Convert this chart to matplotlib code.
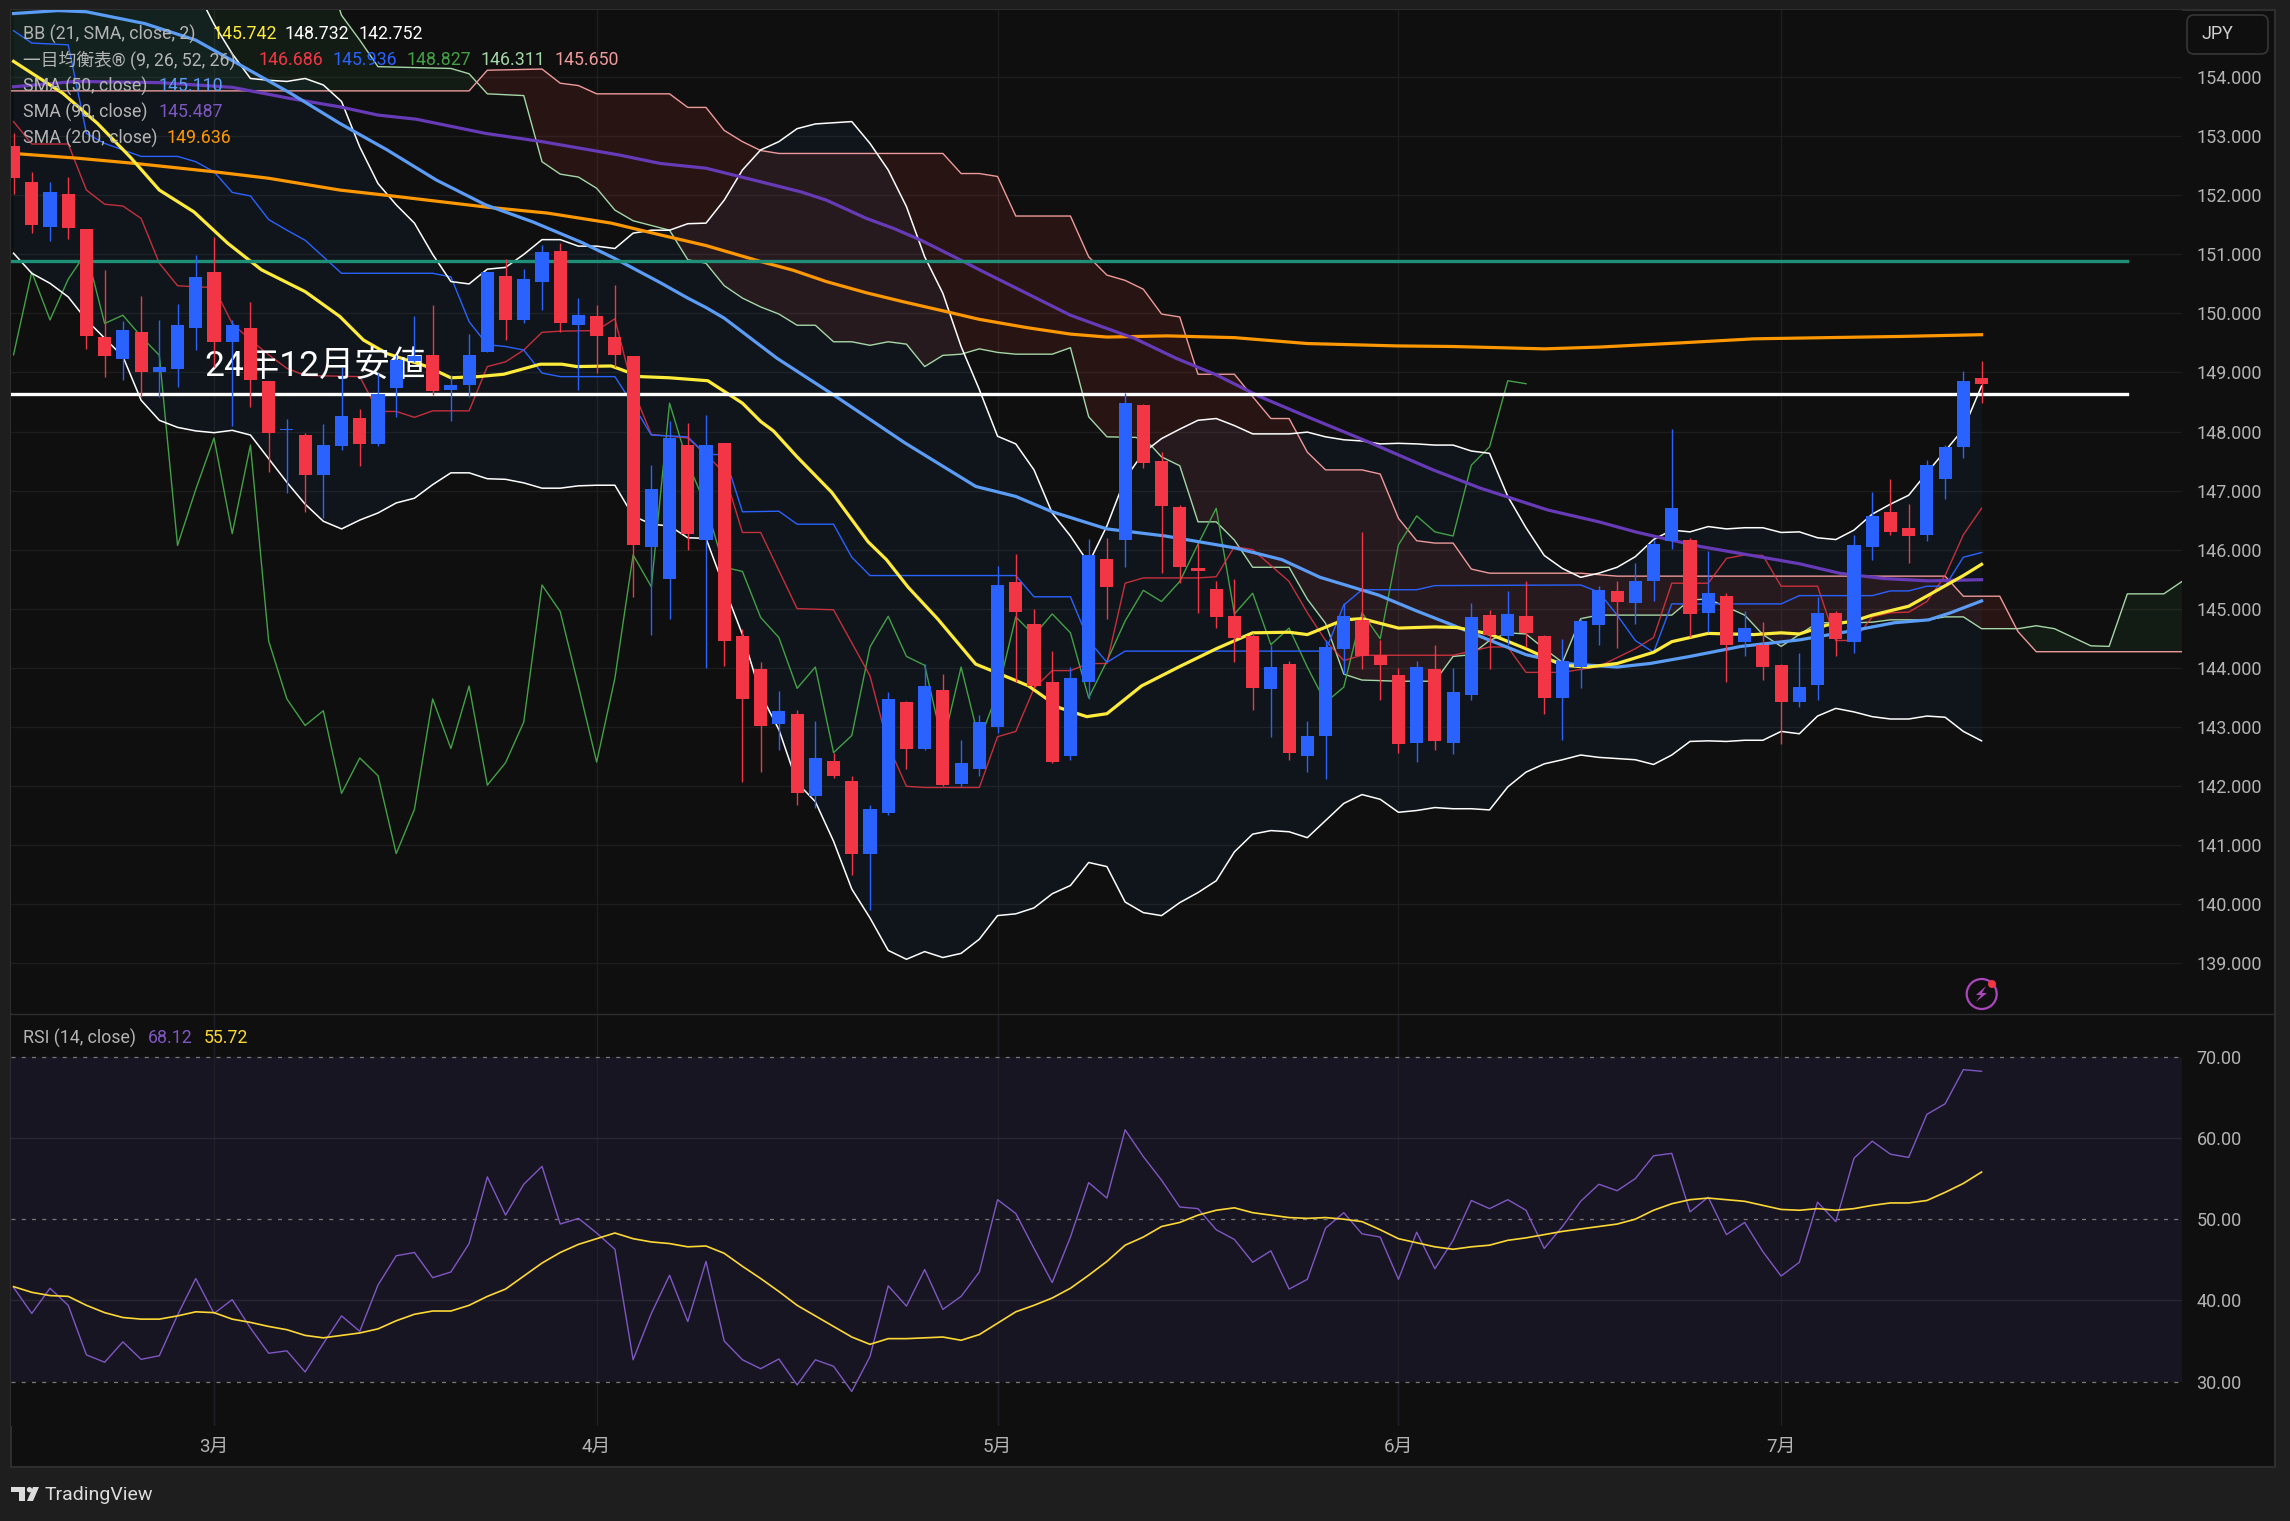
import numpy as np
import matplotlib
matplotlib.use("Agg")
import matplotlib.pyplot as plt
from matplotlib.patches import Circle, FancyBboxPatch, Polygon, Rectangle

plt.rcParams["font.family"] = ["Roboto", "Noto Sans CJK JP", "DejaVu Sans"]

W, H = 2290, 1521

# candles, one per trading day
opens = [152.84, 152.23, 151.47, 152.02, 151.43, 149.60, 149.23, 149.69, 149.00, 149.06,
         149.76, 150.70, 149.52, 149.75, 148.86, 148.02, 147.94, 147.27, 147.76, 148.23,
         147.79, 148.74, 149.19, 149.30, 148.70, 148.79, 149.35, 150.63, 149.89, 150.54,
         151.06, 149.80, 149.96, 149.60, 149.28, 146.05, 145.51, 147.77, 146.17, 147.81,
         144.54, 143.97, 143.05, 143.21, 141.83, 142.42, 142.08, 140.85, 141.53, 143.42,
         142.62, 143.62, 142.03, 142.28, 143.00, 145.45, 144.74, 143.76, 142.50, 143.75,
         145.84, 146.16, 148.45, 147.50, 146.72, 145.68, 145.34, 144.87, 144.54, 143.63,
         144.06, 142.51, 142.85, 144.32, 144.80, 144.21, 143.88, 142.73, 143.97, 142.73,
         143.53, 144.89, 144.54, 144.87, 144.54, 143.49, 144.01, 144.73, 145.30, 145.10,
         145.46, 146.15, 146.16, 144.93, 145.22, 144.44, 144.39, 144.04, 143.41, 143.71,
         144.93, 144.44, 146.05, 146.64, 146.37, 146.25, 147.20, 147.73, 148.90]
highs = [153.05, 152.39, 152.22, 152.31, 151.43, 150.74, 149.88, 150.30, 149.89, 150.16,
         150.99, 151.30, 149.89, 150.20, 148.86, 148.21, 147.97, 148.13, 149.10, 148.38,
         148.99, 149.30, 149.95, 150.14, 148.96, 149.66, 150.70, 150.93, 150.75, 151.16,
         151.20, 150.26, 150.14, 150.49, 149.28, 147.44, 148.18, 148.14, 148.28, 147.81,
         144.66, 144.09, 143.61, 143.29, 143.10, 142.56, 142.17, 141.68, 143.59, 143.44,
         144.06, 143.90, 142.77, 143.20, 145.73, 145.92, 144.99, 144.28, 144.01, 146.18,
         146.20, 148.65, 148.46, 147.66, 146.76, 146.10, 145.46, 145.51, 144.59, 144.39,
         144.11, 143.10, 144.46, 145.10, 146.30, 144.46, 143.99, 144.11, 144.39, 143.99,
         145.10, 144.97, 145.30, 145.46, 144.56, 144.49, 144.84, 145.38, 145.46, 145.77,
         146.17, 148.04, 146.19, 145.97, 145.26, 144.96, 144.77, 144.07, 144.25, 145.20,
         144.96, 146.25, 146.97, 147.20, 146.78, 147.51, 147.77, 149.03, 149.19]
lows = [152.03, 151.36, 151.23, 151.26, 149.40, 148.93, 148.87, 148.59, 148.59, 148.76,
        149.38, 149.10, 148.09, 148.41, 147.32, 146.95, 146.64, 146.53, 147.68, 147.42,
        147.76, 148.24, 149.18, 148.62, 148.18, 148.59, 149.35, 149.55, 149.84, 150.06,
        149.69, 148.71, 148.99, 149.10, 145.20, 144.56, 144.83, 145.99, 144.00, 144.02,
        142.07, 142.23, 142.60, 141.67, 141.63, 142.13, 140.49, 139.90, 141.51, 142.28,
        142.60, 142.00, 141.97, 142.17, 142.90, 143.76, 143.65, 142.38, 142.44, 143.47,
        144.83, 145.71, 147.39, 145.61, 145.43, 144.93, 144.67, 144.09, 143.29, 142.82,
        142.44, 142.23, 142.11, 143.89, 143.97, 143.45, 142.56, 142.40, 142.60, 142.54,
        143.45, 143.97, 144.39, 144.35, 143.21, 142.78, 143.65, 144.39, 144.34, 144.74,
        145.13, 146.01, 144.52, 144.61, 143.76, 144.19, 143.79, 142.70, 143.34, 143.45,
        144.20, 144.24, 145.83, 146.25, 145.77, 146.15, 146.86, 147.55, 148.49]
closes = [152.30, 151.49, 152.05, 151.45, 149.61, 149.28, 149.72, 149.01, 149.09, 149.80,
          150.62, 149.51, 149.80, 148.87, 147.98, 148.04, 147.27, 147.77, 148.26, 147.79,
          148.64, 149.21, 149.28, 148.69, 148.79, 149.30, 150.70, 149.89, 150.58, 151.04,
          149.83, 149.97, 149.61, 149.29, 146.07, 147.02, 147.89, 146.27, 147.77, 144.45,
          143.47, 143.02, 143.27, 141.87, 142.47, 142.17, 140.85, 141.60, 143.47, 142.63,
          143.69, 142.01, 142.39, 143.08, 145.40, 144.95, 143.69, 142.40, 143.82, 145.91,
          145.37, 148.48, 147.47, 146.74, 145.70, 145.63, 144.85, 144.51, 143.65, 144.01,
          142.56, 142.85, 144.35, 144.87, 144.19, 144.04, 142.70, 144.01, 142.76, 143.58,
          144.86, 144.55, 144.91, 144.59, 143.49, 144.11, 144.79, 145.31, 145.12, 145.46,
          146.09, 146.70, 144.91, 145.26, 144.39, 144.67, 144.01, 143.41, 143.67, 144.93,
          144.49, 146.08, 146.57, 146.30, 146.23, 147.43, 147.74, 148.86, 148.81]

# bollinger bands, one value per candle
bb_upper = [156.5, 156.5, 156.5, 156.5, 156.5, 156.5, 156.5, 156.5, 156.5, 156.0,
            155.5, 154.9, 154.4, 153.98, 153.95, 153.93, 153.98, 153.87, 153.59, 152.82,
            152.2, 151.84, 151.53, 151.0, 150.54, 150.5, 150.75, 150.78, 151.0, 151.25,
            151.25, 151.14, 151.14, 151.1, 151.36, 151.41, 151.41, 151.52, 151.53, 151.92,
            152.43, 152.77, 152.91, 153.13, 153.21, 153.23, 153.25, 152.88, 152.43, 151.81,
            150.96, 150.34, 149.44, 148.71, 147.92, 147.79, 147.35, 146.62, 146.23, 145.77,
            146.4, 147.2, 147.64, 147.88, 148.04, 148.19, 148.22, 148.1, 147.96, 147.96,
            147.96, 147.99, 147.91, 147.86, 147.84, 147.79, 147.8, 147.79, 147.77, 147.77,
            147.67, 147.63, 146.9, 146.37, 145.9, 145.68, 145.53, 145.6, 145.7, 145.88,
            146.17, 146.33, 146.3, 146.39, 146.35, 146.37, 146.37, 146.29, 146.3, 146.2,
            146.17, 146.33, 146.6, 146.77, 146.92, 147.3, 147.67, 148.04, 148.77]
bb_lower = [151.02, 150.68, 150.51, 150.28, 149.89, 149.58, 149.27, 148.53, 148.19, 148.07,
            148.01, 147.98, 148.02, 147.94, 147.54, 147.14, 146.77, 146.48, 146.35, 146.5,
            146.62, 146.79, 146.87, 147.1, 147.3, 147.3, 147.2, 147.19, 147.13, 147.04,
            147.04, 147.08, 147.09, 147.09, 146.57, 146.43, 146.4, 146.2, 146.19, 145.36,
            144.56, 143.55, 142.95, 142.05, 141.73, 141.06, 140.25, 139.76, 139.21, 139.06,
            139.19, 139.09, 139.16, 139.4, 139.8, 139.83, 139.93, 140.17, 140.31, 140.7,
            140.63, 140.03, 139.85, 139.8, 140.02, 140.19, 140.39, 140.88, 141.18, 141.24,
            141.22, 141.12, 141.41, 141.7, 141.85, 141.77, 141.55, 141.58, 141.63, 141.61,
            141.61, 141.59, 141.98, 142.23, 142.37, 142.44, 142.52, 142.48, 142.46, 142.44,
            142.36, 142.52, 142.75, 142.76, 142.75, 142.77, 142.77, 142.92, 142.88, 143.18,
            143.31, 143.25, 143.17, 143.13, 143.13, 143.18, 143.16, 142.92, 142.76]
bb_mid_x = [0, 2.7, 4.6, 6.4, 8, 9.9, 11.75, 13.6, 16, 17.9, 19.2, 20.5, 22.7, 24, 25.5, 26.9,
            28.9, 30.1, 30.9, 32.8, 34.4, 36, 38.1, 40, 41, 41.7, 43, 44.9, 46.9, 47.9, 49.1,
            50.7, 52.8, 54.7, 55.7, 57.4, 58.9, 60, 61.9, 64, 66, 68, 70, 71, 73, 74, 76, 78,
            79.2, 81, 83, 85, 86.4, 88, 90, 91, 93, 95.5, 97, 98, 99.5, 101, 102, 104, 105.1,
            107, 108]
bb_mid = [154.27, 153.73, 153.22, 152.65, 152.09, 151.72, 151.19, 150.74, 150.37, 149.95,
          149.55, 149.32, 149.1, 148.91, 148.93, 148.97, 149.14, 149.14, 149.1, 149.11,
          148.93, 148.91, 148.86, 148.48, 148.17, 148.01, 147.57, 146.97, 146.13, 145.83,
          145.36, 144.83, 144.06, 143.82, 143.69, 143.32, 143.17, 143.22, 143.69, 144.02,
          144.32, 144.59, 144.6, 144.56, 144.81, 144.83, 144.67, 144.69, 144.68, 144.57,
          144.32, 144.04, 144.01, 144.07, 144.26, 144.44, 144.58, 144.56, 144.59, 144.57,
          144.72, 144.79, 144.89, 145.04, 145.23, 145.56, 145.75]

# moving averages
sma50_x = [0, 2.45, 4, 7.2, 10, 12.6, 15.2, 17.9, 20.5, 23.2, 25.9, 28.5, 31.2, 33, 35.5, 37,
           38, 39, 41.9, 45, 48.9, 52.8, 55, 57, 60, 63.2, 67, 69.6, 71.7, 74.9, 77, 78.9,
           80.8, 83, 85.1, 88, 89.8, 92, 94.8, 98, 101, 103.2, 105.1, 106.3, 108]
sma50 = [155.08, 155.13, 155.11, 154.91, 154.63, 154.18, 153.73, 153.22, 152.77, 152.26,
         151.84, 151.55, 151.2, 150.93, 150.52, 150.26, 150.1, 149.92, 149.24, 148.62,
         147.81, 147.07, 146.9, 146.64, 146.35, 146.23, 146.03, 145.83, 145.53, 145.23,
         144.96, 144.73, 144.49, 144.22, 144.07, 144.01, 144.07, 144.19, 144.36, 144.47,
         144.63, 144.76, 144.81, 144.93, 145.13]
sma90_x = [0, 3.4, 8, 12, 15.2, 17.9, 20, 22.1, 25.9, 29, 33.3, 35.5, 38, 41, 43.2, 44.6, 46.8,
           48.3, 49.8, 52, 53, 55.6, 58, 59.6, 61.5, 63.8, 66, 68.4, 71, 74.3, 77.9, 80.5, 82,
           84.2, 87, 89, 90.4, 92.6, 95.4, 98, 100.2, 102.6, 105.1, 108]
sma90 = [153.84, 153.93, 153.91, 153.83, 153.64, 153.5, 153.36, 153.29, 153.05, 152.91,
         152.68, 152.54, 152.46, 152.23, 152.06, 151.92, 151.61, 151.44, 151.24, 150.9,
         150.74, 150.34, 149.97, 149.79, 149.58, 149.24, 148.96, 148.59, 148.25, 147.83,
         147.35, 147.04, 146.89, 146.67, 146.47, 146.3, 146.2, 146.05, 145.9, 145.76, 145.6,
         145.51, 145.47, 145.49]
sma200_x = [0, 3.5, 6.7, 11, 14, 17.9, 20.5, 26, 29.3, 32.8, 35.5, 38, 41, 42.8, 44.6, 46.8,
            48.8, 51.2, 53, 55.6, 58, 60, 63.3, 67, 71, 75.9, 79, 84, 87, 91.4, 95.5, 103.5, 108]
sma200 = [152.71, 152.63, 152.54, 152.40, 152.29, 152.09, 152.0, 151.80, 151.70, 151.53,
          151.33, 151.15, 150.88, 150.73, 150.54, 150.35, 150.2, 150.03, 149.9, 149.76,
          149.65, 149.6, 149.62, 149.59, 149.49, 149.45, 149.44, 149.4, 149.43, 149.5,
          149.57, 149.61, 149.64]

# ichimoku
tenkan_x = [0, 1, 3, 4, 5, 6, 7, 8, 9, 10, 11, 12, 13, 14, 15, 16, 19, 20, 21, 22, 23, 25, 26,
            27, 28, 29, 30, 32, 33, 34, 35, 37, 38, 39, 40, 41, 43, 45, 47, 48, 49, 50, 53, 54,
            55, 56, 57, 58, 59, 60, 61, 62, 65, 66, 67, 68, 69, 70, 71, 72, 73, 74, 79, 81, 82,
            83, 85, 87, 89, 90, 91, 93, 94, 95, 96, 97, 99, 100, 101, 102, 103, 104, 105, 106,
            107, 108]
tenkan = [153.25, 152.87, 152.87, 152.09, 151.85, 151.82, 151.61, 150.85, 150.47, 150.45,
          150.44, 149.83, 149.55, 149.3, 149.07, 148.95, 148.93, 148.34, 148.34, 148.24,
          148.35, 148.35, 149.1, 149.18, 149.38, 149.68, 149.7, 149.71, 149.91, 148.7, 147.95,
          147.89, 147.61, 147.3, 146.29, 146.29, 145.0, 144.98, 143.86, 142.68, 141.99, 141.97,
          141.97, 142.83, 142.92, 143.65, 143.95, 143.95, 144.07, 144.07, 145.43, 145.52,
          145.52, 145.54, 146.05, 146.0, 145.73, 145.46, 144.93, 144.46, 144.12, 144.21,
          144.21, 144.35, 144.35, 143.92, 143.92, 144.02, 144.32, 144.51, 145.43, 145.43,
          145.85, 145.91, 145.9, 145.38, 145.38, 144.46, 144.46, 144.86, 144.93, 144.94,
          145.12, 145.56, 146.25, 146.7]
kijun_x = [0, 1, 3, 4, 5, 7, 9, 10, 11, 12, 13, 14, 15, 16, 17, 18, 23, 24, 25, 26, 27, 28, 29,
           30, 33, 34, 35, 37, 38, 39, 40, 42, 43, 45, 46, 47, 55, 56, 58, 59, 60, 61, 72, 73,
           74, 77, 78, 86, 87, 88, 89, 90, 91, 97, 98, 102, 103, 104, 105, 106, 107, 108]
kijun = [154.79, 154.58, 154.55, 153.05, 152.88, 152.66, 152.66, 152.57, 152.4, 152.05, 151.99,
         151.59, 151.41, 151.24, 150.96, 150.68, 150.68, 150.62, 149.86, 149.47, 149.44, 149.38,
         148.99, 148.93, 148.93, 148.45, 147.94, 147.91, 147.61, 147.61, 146.64, 146.65, 146.43,
         146.43, 145.87, 145.56, 145.56, 145.2, 145.2, 144.46, 144.09, 144.28, 144.28, 145.06,
         145.32, 145.32, 145.39, 145.4, 145.28, 144.89, 144.46, 144.26, 145.08, 145.08, 145.22,
         145.22, 145.3, 145.3, 145.38, 145.38, 145.87, 145.95]
senkou_a_x = [-1, 17, 18, 19, 20, 24, 25, 26, 28, 29, 30, 31, 32, 33, 34, 36, 37, 38, 39, 40, 41,
              42, 43, 44, 45, 46, 47, 48, 49, 50, 51, 52, 53, 54, 55, 57, 58, 59, 60, 61.6, 62.4,
              63, 64, 65, 66, 67, 68, 70, 71, 72, 73, 74, 76, 78, 79, 80, 81, 82, 83, 84, 85, 86,
              87, 91, 92, 93, 94, 95, 96, 97, 98, 99, 101, 102, 103, 105, 106, 107, 108, 110, 111,
              112, 114, 115, 116, 118, 119]
senkou_a = [156.0, 156.0, 155.05, 154.63, 154.18, 154.15, 154.06, 153.72, 153.69, 152.57, 152.36,
            152.31, 152.12, 151.75, 151.57, 151.41, 150.91, 150.85, 150.47, 150.26, 150.11, 149.99,
            149.8, 149.8, 149.52, 149.52, 149.46, 149.52, 149.48, 149.1, 149.29, 149.31, 149.4,
            149.34, 149.31, 149.31, 149.42, 148.25, 147.91, 147.9, 147.77, 147.57, 147.42, 146.47,
            146.47, 146.16, 145.7, 145.7, 145.16, 144.75, 143.89, 143.79, 143.77, 143.77, 144.19,
            144.22, 144.46, 144.59, 144.57, 144.32, 144.09, 144.83, 144.89, 144.89, 145.15, 145.16,
            145.03, 144.89, 144.56, 144.36, 144.56, 144.76, 144.76, 144.77, 144.81, 144.81, 144.86,
            144.86, 144.66, 144.66, 144.71, 144.66, 144.37, 144.36, 145.25, 145.25, 145.46]
senkou_b_x = [-1, 25, 26, 29, 30, 31, 32, 36, 37, 38, 39, 40, 41, 42, 51, 52, 53, 54, 55, 58, 59,
              60, 61, 62, 63, 64, 65, 67, 68, 69, 70, 71, 72, 74, 75, 76, 77, 78, 79, 80, 81, 86,
              88, 106, 107, 109, 110, 111, 119]
senkou_b = [153.77, 153.77, 154.12, 154.14, 153.9, 153.86, 153.72, 153.72, 153.49, 153.49, 153.1,
            152.91, 152.76, 152.71, 152.71, 152.37, 152.37, 152.32, 151.65, 151.65, 150.96, 150.65,
            150.56, 150.41, 149.99, 149.94, 148.97, 148.97, 148.59, 148.22, 148.22, 147.65, 147.35,
            147.35, 147.28, 146.53, 146.15, 146.11, 146.11, 145.67, 145.6, 145.6, 145.55, 145.55,
            145.21, 145.21, 144.61, 144.27, 144.27]
chikou_shift = 25

# horizontal levels and ticks
level_teal = 150.89
level_white = 148.63
level_end = 116
price_ticks = list(range(139, 155))
month_idx = [11, 32, 54, 76, 97]
month_labels = ["3月", "4月", "5月", "6月", "7月"]

# RSI
rsi = [41.6, 38.4, 41.5, 39.4, 33.3, 32.4, 34.9, 32.75, 33.2, 38.2,
       42.7, 38.4, 40.1, 36.6, 33.5, 33.8, 31.2, 34.7, 38.1, 36.2,
       41.9, 45.5, 45.9, 42.8, 43.5, 47.0, 55.2, 50.5, 54.3, 56.5,
       49.4, 50.1, 48.3, 46.3, 32.7, 38.4, 43.1, 37.4, 44.8, 35.0,
       32.7, 31.6, 32.8, 29.6, 32.7, 31.9, 28.8, 33.1, 41.8, 39.3,
       43.8, 38.9, 40.5, 43.5, 52.4, 50.7, 46.4, 42.2, 47.8, 54.5,
       52.6, 61.0, 57.7, 54.8, 51.5, 51.3, 48.7, 47.5, 44.7, 46.1,
       41.4, 42.6, 48.9, 50.8, 48.2, 47.8, 42.6, 48.4, 43.9, 47.4,
       52.3, 51.3, 52.4, 51.1, 46.4, 49.1, 52.2, 54.3, 53.5, 55.0,
       57.8, 58.1, 50.9, 52.7, 48.1, 49.6, 46.0, 43.0, 44.7, 52.1,
       49.7, 57.5, 59.6, 58.0, 57.6, 62.9, 64.2, 68.4, 68.2]
rsi_ma = [41.7, 41.0, 40.6, 40.5, 39.4, 38.5, 37.9, 37.7, 37.7, 38.1,
          38.6, 38.5, 37.7, 37.3, 36.8, 36.4, 35.7, 35.4, 35.7, 36.0,
          36.5, 37.5, 38.3, 38.7, 38.7, 39.4, 40.5, 41.4, 43.0, 44.6,
          45.9, 46.9, 47.6, 48.3, 47.6, 47.2, 47.0, 46.6, 46.7, 45.8,
          44.2, 42.7, 41.1, 39.4, 38.1, 36.8, 35.5, 34.6, 35.3, 35.3,
          35.4, 35.5, 35.1, 35.8, 37.2, 38.6, 39.4, 40.3, 41.5, 43.1,
          44.8, 46.8, 47.8, 49.1, 49.6, 50.5, 51.1, 51.4, 50.8, 50.5,
          50.2, 50.1, 50.2, 50.0, 49.7, 48.7, 47.6, 47.1, 46.6, 46.3,
          46.6, 46.8, 47.4, 47.7, 48.1, 48.5, 48.8, 49.1, 49.4, 50.0,
          51.1, 51.9, 52.4, 52.6, 52.4, 52.2, 51.7, 51.2, 51.1, 51.3,
          51.1, 51.3, 51.7, 52.0, 52.0, 52.3, 53.3, 54.4, 55.8]
rsi_ticks = [30, 40, 50, 60, 70]

BG_OUTER = "#1e1e1e"
BG = "#0f0f0f"
GRID = "#1d1d1d"
LABEL = "#b4b4b4"
BLUE = "#2962ff"
RED = "#f23645"
YELLOW = "#ffeb3b"
SMA50_C = "#5b9cf6"
SMA90_C = "#673ab7"
RSI_C = "#7e57c2"
SMA200_C = "#ff9800"
A_C = "#a5d6a7"
B_C = "#ef9a9a"
CHIKOU_C = "#43a047"


def pane(left, top, right, bottom):
    """Оси по пиксельным границам картинки."""
    return fig.add_axes([left / W, 1 - bottom / H, (right - left) / W, (bottom - top) / H])


fig = plt.figure(figsize=(W / 100, H / 100), dpi=100, facecolor=BG_OUTER)

# panel frame behind the panes
back = fig.add_axes([0, 0, 1, 1], zorder=-1)
back.set_xlim(0, W)
back.set_ylim(H, 0)
back.axis("off")
back.add_patch(Rectangle((11, 10), 2264, 1457, facecolor=BG, edgecolor="#2e2e2e", lw=1.5))

ax = pane(11, 10, 2182, 1013)
ax.set_facecolor(BG)
ax.set_xlim(-0.14, 119.0)
ax.set_ylim(138.15, 155.14)

idx = np.arange(len(closes))
fine = np.linspace(-1, 119, 2401)

# cloud
a_fine = np.interp(fine, senkou_a_x, senkou_a)
b_fine = np.interp(fine, senkou_b_x, senkou_b)
ax.fill_between(fine, a_fine, b_fine, where=a_fine >= b_fine, color="#43a047", alpha=0.09, lw=0, zorder=1)
ax.fill_between(fine, a_fine, b_fine, where=a_fine < b_fine, color="#f44336", alpha=0.11, lw=0, zorder=1)

# bollinger fill
ax.fill_between(idx, bb_upper, bb_lower, color="#2196f3", alpha=0.05, lw=0, zorder=1.5)

ax.plot(senkou_a_x, senkou_a, color=A_C, lw=1.0, zorder=2)
ax.plot(senkou_b_x, senkou_b, color=B_C, lw=1.0, zorder=2)
ax.plot(idx[:-chikou_shift], closes[chikou_shift:], color=CHIKOU_C, lw=1.0, zorder=2)
ax.plot(tenkan_x, tenkan, color=RED, alpha=0.8, lw=1.0, zorder=2)
ax.plot(kijun_x, kijun, color=BLUE, lw=1.0, zorder=2)
ax.plot(idx, bb_upper, color="white", lw=1.1, zorder=2.2)
ax.plot(idx, bb_lower, color="white", lw=1.1, zorder=2.2)

ax.plot(sma200_x, sma200, color=SMA200_C, lw=2.3, zorder=2.5)
ax.plot(sma90_x, sma90, color=SMA90_C, lw=2.3, zorder=2.5)
ax.plot(sma50_x, sma50, color=SMA50_C, lw=2.3, zorder=2.5)
ax.plot(bb_mid_x, bb_mid, color=YELLOW, lw=2.3, zorder=2.6)

ax.plot([-1, level_end], [level_teal, level_teal], color="#1f8f78", lw=2.4, zorder=2.7)
ax.plot([-1, level_end], [level_white, level_white], color="white", lw=2.4, zorder=2.7)

ax.text(10.45, 149.09, "24年12月安値", color="white", fontsize=25.5, va="center", ha="left", zorder=3)

# candles on top of everything else
colors = [BLUE if c >= o else RED for o, c in zip(opens, closes)]
ax.vlines(idx, lows, highs, colors=colors, lw=1.0, zorder=4)
ax.bar(idx, np.abs(np.array(closes) - np.array(opens)), bottom=np.minimum(opens, closes),
       width=0.72, color=colors, lw=0, zorder=4.1)

ax.set_yticks(price_ticks)
ax.set_yticklabels([f"{p:.3f}" for p in price_ticks])
ax.set_xticks(month_idx)
ax.set_xticklabels([])
ax.yaxis.tick_right()
ax.tick_params(axis="both", length=0, labelsize=13, labelcolor=LABEL, pad=10.5)
ax.grid(True, color=GRID, lw=1.0)
ax.set_axisbelow(True)
for s in ax.spines.values():
    s.set_visible(False)

# RSI pane
ax2 = pane(11, 1014, 2182, 1426)
ax2.set_facecolor(BG)
ax2.set_xlim(-0.14, 119.0)
ax2.set_ylim(24.55, 75.25)
ax2.axhspan(30, 70, color="#181522", lw=0, zorder=0.5)
ax2.plot(idx, rsi, color=RSI_C, lw=1.0, zorder=3)
ax2.plot(idx, rsi_ma, color="#fdd835", lw=1.2, zorder=3.1)
ax2.set_yticks(rsi_ticks)
ax2.set_yticklabels([f"{v:.2f}" for v in rsi_ticks])
ax2.set_xticks(month_idx)
ax2.set_xticklabels(month_labels)
ax2.yaxis.tick_right()
ax2.tick_params(axis="y", length=0, labelsize=13, labelcolor=LABEL, pad=10.5)
ax2.tick_params(axis="x", length=0, labelsize=13.5, labelcolor=LABEL, pad=8.5)
ax2.grid(True, axis="x", color="#1f1f26", lw=1.0)
ax2.set_axisbelow(True)
for v in [40, 60]:
    ax2.axhline(v, color="#2a2635", lw=1.0, zorder=1)
for v in [30, 50, 70]:
    ax2.axhline(v, color="#787878", lw=0.9, ls=(0, (3.2, 5.0)), zorder=1.2)
for s in ax2.spines.values():
    s.set_visible(False)

# overlay in picture pixels for legend text and icons
top = fig.add_axes([0, 0, 1, 1], zorder=5)
top.set_xlim(0, W)
top.set_ylim(H, 0)
top.axis("off")
top.patch.set_alpha(0)

top.plot([11, 2275], [1013.5, 1013.5], color="#2e2e2e", lw=1.0)

LEG = 12.8
legend_rows = [
    (34, 23, "BB (21, SMA, close, 2)",
     [(212, "145.742", YELLOW), (285, "148.732", "white"), (359, "142.752", "white")]),
    (60, 23, "一目均衡表® (9, 26, 52, 26)",
     [(258, "146.686", RED), (333, "145.936", BLUE), (407, "148.827", CHIKOU_C),
      (481, "146.311", A_C), (555, "145.650", B_C)]),
    (86, 23, "SMA (50, close)", [(158, "145.110", SMA50_C)]),
    (112, 23, "SMA (90, close)", [(158, "145.487", RSI_C)]),
    (138, 23, "SMA (200, close)", [(167, "149.636", SMA200_C)]),
    (1038, 23, "RSI (14, close)", [(148, "68.12", RSI_C), (204, "55.72", "#fdd835")]),
]
for y, x, label, values in legend_rows:
    top.text(x, y, label, color=LABEL, fontsize=LEG, va="center", ha="left")
    for vx, vtext, vcolor in values:
        top.text(vx, y, vtext, color=vcolor, fontsize=LEG, va="center", ha="left")

# JPY box
top.add_patch(FancyBboxPatch((2187, 15), 81, 39, boxstyle="round,pad=0,rounding_size=7",
                             facecolor=BG, edgecolor="#363636", lw=1.2))
top.text(2202, 34, "JPY", color="#d0d0d0", fontsize=13, va="center", ha="left")

# lightning icon
top.add_patch(Circle((1981.7, 994), 15, facecolor="none", edgecolor="#ab47bc", lw=1.6))
top.add_patch(Polygon([(1986, 986), (1976, 995), (1981, 995), (1976, 1002), (1987, 993), (1982, 993)],
                      color="#ab47bc", lw=0))
top.add_patch(Circle((1992, 984), 4, color=RED, lw=0))

# TradingView logo
top.add_patch(Polygon([(11, 1487), (25, 1487), (25, 1501), (19, 1501), (19, 1492), (11, 1492)],
                      color="#dcdcdc", lw=0))
top.add_patch(Circle((29.5, 1489.7), 2.7, color="#dcdcdc", lw=0))
top.add_patch(Polygon([(33, 1487), (39, 1487), (33, 1501), (27, 1501)], color="#dcdcdc", lw=0))
top.text(45, 1495, "TradingView", color="#dcdcdc", fontsize=14, va="center", ha="left")

fig.savefig("out.png", dpi=100, facecolor=BG_OUTER)
